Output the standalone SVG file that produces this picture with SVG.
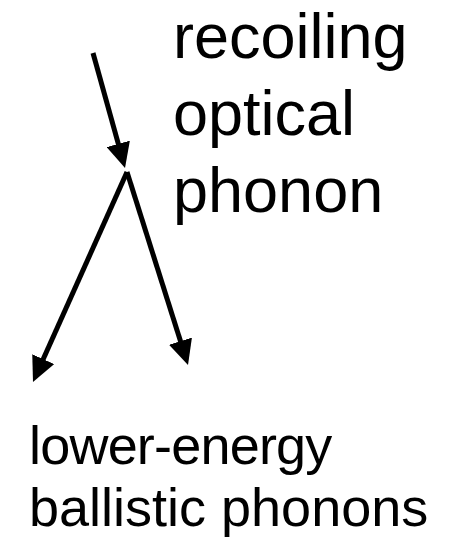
<svg xmlns="http://www.w3.org/2000/svg" width="460" height="538" viewBox="0 0 460 538">
<defs>
<style>
.lbl{font-family:"Liberation Sans",Arial,sans-serif;fill:#000;}
.big{font-size:63px;}
.small{font-size:54px;}
.edge{stroke:#000;stroke-width:5;fill:none;marker-end:url(#ah);}
</style>
<marker id="ah" markerUnits="userSpaceOnUse" markerWidth="25" markerHeight="24" refX="13" refY="12" orient="auto">
<path d="M0,0 L25,12 L0,24 z" fill="#000"/>
</marker>
</defs>
<rect width="460" height="538" fill="#fff"/>
<g id="connectors">
<line class="edge" x1="93" y1="53" x2="121.8" y2="156.4"/>
<line class="edge" x1="127" y1="172" x2="37.9" y2="371"/>
<line class="edge" x1="127" y1="172" x2="184.4" y2="353.6"/>
</g>
<g id="recoiling-optical-phonon">
<text class="lbl big" x="173" y="58">recoiling</text>
<text class="lbl big" x="173" y="135">optical</text>
<text class="lbl big" x="173" y="212">phonon</text>
</g>
<g id="lower-energy-ballistic-phonons">
<text class="lbl small" x="29" y="464" letter-spacing="-0.8">lower-energy</text>
<text class="lbl small" x="29" y="526">ballistic phonons</text>
</g>
</svg>
